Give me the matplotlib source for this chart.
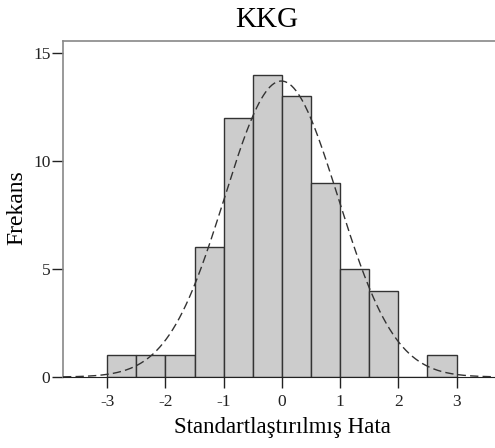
import numpy as np
import matplotlib.pyplot as plt

# histogram bins and frequencies
bin_edges = [-3.0, -2.5, -2.0, -1.5, -1.0, -0.5, 0.0, 0.5, 1.0, 1.5, 2.0, 2.5, 3.0]
counts = [1, 1, 1, 6, 12, 14, 13, 9, 5, 4, 0, 1]
# fitted normal curve parameters
mean_val = -0.01
sd_val = 0.975
n_obs = sum(counts)
bin_width = 0.5

plt.rcParams['font.family'] = ['Liberation Serif', 'DejaVu Serif']
plt.rcParams['axes.unicode_minus'] = False

fig = plt.figure(figsize=(4.95, 4.48), dpi=100)
ax = fig.add_axes([63 / 495, 71 / 448, 1 - 63 / 495, 336 / 448])

lefts = np.array(bin_edges[:-1])
ax.bar(lefts, counts, width=np.diff(bin_edges), align='edge',
       color='#cccccc', edgecolor='#333333', linewidth=1.0, zorder=2)

xs = np.linspace(-3.76, 3.7, 400)
ys = n_obs * bin_width / (sd_val * np.sqrt(2 * np.pi)) * np.exp(-0.5 * ((xs - mean_val) / sd_val) ** 2)
ax.plot(xs, ys, color='#333333', linestyle=(0, (6, 3)), linewidth=1.0, zorder=3)

ax.set_xlim(-3.76, 3.66)
ax.set_ylim(0, 15.56)
ax.set_xticks([-3, -2, -1, 0, 1, 2, 3])
ax.set_yticks([0, 5, 10, 15])
ax.tick_params(axis='both', labelsize=12.5, colors='#222222', width=1.0)
ax.tick_params(axis='x', length=8, pad=4, direction='out')
ax.tick_params(axis='y', length=8, pad=1, direction='out')

for side in ['left', 'top']:
    ax.spines[side].set_color('#888888')
    ax.spines[side].set_linewidth(1.2)
ax.spines['bottom'].set_color('#222222')
ax.spines['right'].set_visible(False)

fig.text(267 / 495, 1 - 20 / 448, 'KKG', fontsize=21, ha='center', va='center')
fig.text(282 / 495, 1 - 427 / 448, 'Standartlaştırılmış Hata', fontsize=16.5, ha='center', va='center')
fig.text(17 / 495, 1 - 208 / 448, 'Frekans', fontsize=17, ha='center', va='center', rotation=90)

fig.savefig('out.png', dpi=100)
